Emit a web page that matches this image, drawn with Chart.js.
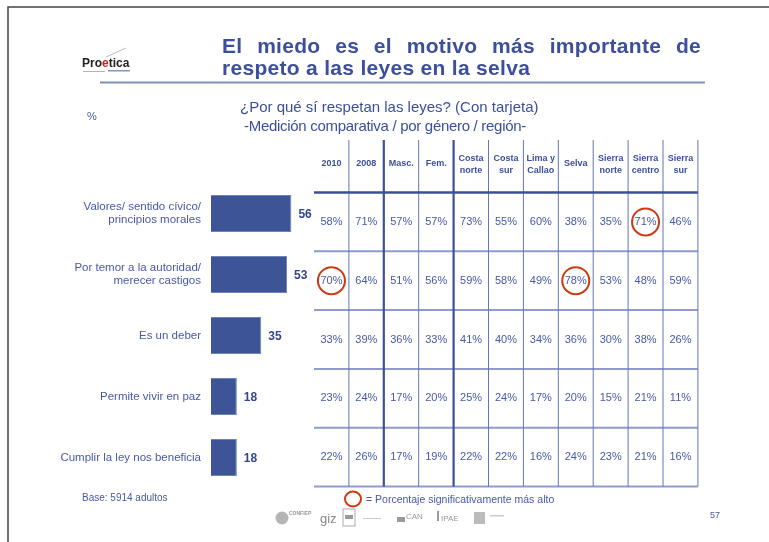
<!DOCTYPE html>
<html>
<head>
<meta charset="utf-8">
<script src="https://cdn.jsdelivr.net/npm/chart.js@4"></script>
<style>
  html, body { margin: 0; padding: 0; background: #fff; }
  #slide { display: block; }
</style>
</head>
<body>
<canvas id="slide" width="769" height="542"></canvas>
<script>
// Data
const categories = [
    ['Valores/ sentido cívico/', 'principios morales'],
    ['Por temor a la autoridad/', 'merecer castigos'],
    'Es un deber',
    'Permite vivir en paz',
    'Cumplir la ley nos beneficia'
];
const totals = [56, 53, 35, 18, 18];

const columns = [
    ['2010'], ['2008'], ['Masc.'], ['Fem.'],
    ['Costa', 'norte'], ['Costa', 'sur'], ['Lima y', 'Callao'], ['Selva'],
    ['Sierra', 'norte'], ['Sierra', 'centro'], ['Sierra', 'sur']
];
const rowValues = [
    [58, 71, 57, 57, 73, 55, 60, 38, 35, 71, 46],
    [70, 64, 51, 56, 59, 58, 49, 78, 53, 48, 59],
    [33, 39, 36, 33, 41, 40, 34, 36, 30, 38, 26],
    [23, 24, 17, 20, 25, 24, 17, 20, 15, 21, 11],
    [22, 26, 17, 19, 22, 22, 16, 24, 23, 21, 16]
];
// [row, column] of the circled cells
const highlights = [[0, 9], [1, 0], [1, 7]];

const titleLines = ['El miedo es el motivo más importante de', 'respeto a las leyes en la selva'];
const subtitleLines = ['¿Por qué sí respetan las leyes? (Con tarjeta)', '-Medición comparativa / por género / región-'];

const FONT = '"Liberation Sans", Arial, sans-serif';
const BLUE = '#3b4f9c';
const TEXT_BLUE = '#4858a6';
const RED = '#cc3a12';

// slide decoration: frame, logo, title, notes
const slidePlugin = {
    id: 'slide',
    beforeDraw(chart) {
        const ctx = chart.ctx;
        ctx.save();
        ctx.fillStyle = '#fff';
        ctx.fillRect(0, 0, chart.width, chart.height);

        // frame
        ctx.strokeStyle = '#444';
        ctx.lineWidth = 1.5;
        ctx.beginPath();
        ctx.moveTo(8, 542);
        ctx.lineTo(8, 7);
        ctx.lineTo(769, 7);
        ctx.stroke();

        // Proetica logo
        ctx.strokeStyle = '#aaa';
        ctx.lineWidth = 0.8;
        ctx.beginPath();
        ctx.moveTo(106, 57);
        ctx.lineTo(126, 48);
        ctx.stroke();
        ctx.font = 'bold 12px ' + FONT;
        ctx.textBaseline = 'alphabetic';
        let lx = 82;
        [['Pro', '#222'], ['e', '#cc2222'], ['tica', '#222']].forEach(([t, c]) => {
            ctx.fillStyle = c;
            ctx.fillText(t, lx, 67);
            lx += ctx.measureText(t).width;
        });
        ctx.fillStyle = '#b0b4c0';
        ctx.fillRect(83, 71, 22, 1);
        ctx.fillStyle = '#8a94c0';
        ctx.fillRect(108, 70, 22, 1.5);

        // title, first line justified
        ctx.fillStyle = BLUE;
        ctx.font = 'bold 21px ' + FONT;
        ctx.letterSpacing = '0.3px';
        ctx.textBaseline = 'middle';
        const words = titleLines[0].split(' ');
        const widths = words.map(w => ctx.measureText(w).width);
        const gap = (701 - 222 - widths.reduce((a, b) => a + b, 0)) / (words.length - 1);
        let wx = 222;
        words.forEach((w, i) => { ctx.fillText(w, wx, 47); wx += widths[i] + gap; });
        ctx.fillText(titleLines[1], 222, 69);
        ctx.letterSpacing = '0px';

        ctx.strokeStyle = '#7f93ba';
        ctx.lineWidth = 2;
        ctx.beginPath();
        ctx.moveTo(100, 82.5);
        ctx.lineTo(705, 82.5);
        ctx.stroke();

        // subtitle
        ctx.font = '15px ' + FONT;
        ctx.fillStyle = BLUE;
        ctx.fillText(subtitleLines[0], 240, 108);
        ctx.letterSpacing = '-0.3px';
        ctx.fillText(subtitleLines[1], 244, 127);
        ctx.letterSpacing = '0px';

        ctx.font = '11px ' + FONT;
        ctx.fillStyle = TEXT_BLUE;
        ctx.fillText('%', 87, 117);

        ctx.font = '10px ' + FONT;
        ctx.fillText('Base: 5914 adultos', 82, 498);

        // legend
        ctx.strokeStyle = RED;
        ctx.lineWidth = 2;
        ctx.beginPath();
        ctx.ellipse(353, 499, 8, 7.5, 0, 0, Math.PI * 2);
        ctx.stroke();
        ctx.font = '10.5px ' + FONT;
        ctx.fillStyle = TEXT_BLUE;
        ctx.fillText('= Porcentaje significativamente más alto', 366, 500);

        ctx.font = '9px ' + FONT;
        ctx.fillText('57', 710, 516);

        // sponsor logos (greyed)
        ctx.fillStyle = '#b5b5b5';
        ctx.beginPath();
        ctx.arc(282, 518, 6.5, 0, Math.PI * 2);
        ctx.fill();
        ctx.font = 'bold 5px ' + FONT;
        ctx.fillStyle = '#999';
        ctx.fillText('CONFIEP', 289, 514);
        ctx.font = '13px ' + FONT;
        ctx.fillStyle = '#888';
        ctx.fillText('giz', 320, 519);
        ctx.strokeStyle = '#aaa';
        ctx.lineWidth = 1;
        ctx.strokeRect(343, 509, 12, 17);
        ctx.fillStyle = '#999';
        ctx.fillRect(345, 515, 8, 4);
        ctx.fillStyle = '#ccc';
        ctx.fillRect(363, 518, 18, 1);
        ctx.fillStyle = '#999';
        ctx.fillRect(397, 517, 8, 5);
        ctx.font = '8px ' + FONT;
        ctx.fillText('CAN', 406, 517);
        ctx.fillRect(437, 511, 2, 10);
        ctx.fillText('IPAE', 441, 519);
        ctx.fillStyle = '#bbb';
        ctx.fillRect(474, 512, 11, 12);
        ctx.fillStyle = '#ccc';
        ctx.fillRect(490, 515, 14, 1.5);
        ctx.restore();
    },
    afterDraw(chart) {
        const ctx = chart.ctx;
        const x = chart.scales.x;
        const y = chart.scales.y;
        ctx.save();

        // bar value labels
        ctx.font = 'bold 12px ' + FONT;
        ctx.fillStyle = '#33458f';
        ctx.textBaseline = 'middle';
        totals.forEach((v, i) => {
            ctx.fillText(String(v), x.getPixelForValue(v) + 7, y.getPixelForValue(i) + 1);
        });

        // comparison table
        const left = 314, colW = 34.9, top = 140, headBottom = 192.5, rowH = 58.8;
        const bottom = headBottom + rowH * rowValues.length;
        const right = left + colW * columns.length;

        ctx.strokeStyle = '#8e9bcb';
        ctx.lineWidth = 2;
        for (let r = 1; r <= rowValues.length; r++) {
            const yy = headBottom + rowH * r;
            ctx.beginPath();
            ctx.moveTo(left, yy);
            ctx.lineTo(right, yy);
            ctx.stroke();
        }
        for (let c = 1; c <= columns.length; c++) {
            const xx = left + colW * c;
            const thick = c === 2 || c === 4;
            ctx.strokeStyle = thick ? '#3d4f98' : '#6575b8';
            ctx.lineWidth = thick ? 2.2 : 1;
            ctx.beginPath();
            ctx.moveTo(xx, top);
            ctx.lineTo(xx, bottom);
            ctx.stroke();
        }
        ctx.strokeStyle = '#3d5095';
        ctx.lineWidth = 2.5;
        ctx.beginPath();
        ctx.moveTo(left, headBottom);
        ctx.lineTo(right, headBottom);
        ctx.stroke();

        ctx.textAlign = 'center';
        ctx.font = 'bold 9px ' + FONT;
        ctx.fillStyle = '#3d4f9c';
        columns.forEach((lines, c) => {
            const cx = left + colW * (c + 0.5);
            if (lines.length === 1) {
                ctx.fillText(lines[0], cx, 164);
            } else {
                ctx.fillText(lines[0], cx, 159);
                ctx.fillText(lines[1], cx, 170.5);
            }
        });

        ctx.font = '11px ' + FONT;
        ctx.fillStyle = TEXT_BLUE;
        rowValues.forEach((vals, r) => {
            const cy = headBottom + rowH * (r + 0.5);
            vals.forEach((v, c) => {
                ctx.fillText(v + '%', left + colW * (c + 0.5), cy);
            });
        });

        ctx.strokeStyle = RED;
        ctx.lineWidth = 2;
        highlights.forEach(([r, c]) => {
            ctx.beginPath();
            ctx.ellipse(left + colW * (c + 0.5), headBottom + rowH * (r + 0.5), 13.5, 13.5, 0, 0, Math.PI * 2);
            ctx.stroke();
        });
        ctx.restore();
    }
};

new Chart(document.getElementById('slide').getContext('2d'), {
    type: 'bar',
    data: {
        labels: categories,
        datasets: [{
            data: totals,
            backgroundColor: '#3d5597',
            borderColor: '#7084b8',
            borderWidth: 1,
            barPercentage: 0.61,
            categoryPercentage: 1
        }]
    },
    options: {
        indexAxis: 'y',
        responsive: false,
        animation: false,
        layout: { padding: { left: 0, top: 183, right: 469, bottom: 54 } },
        plugins: {
            legend: { display: false },
            tooltip: { enabled: false }
        },
        scales: {
            x: {
                display: false,
                min: 0,
                max: 62
            },
            y: {
                afterFit(scale) { scale.width = 211; },
                grid: { display: false, drawTicks: false },
                border: { display: false },
                ticks: {
                    padding: 10,
                    color: TEXT_BLUE,
                    font: { family: FONT, size: 11.5, lineHeight: 1.17 }
                }
            }
        }
    },
    plugins: [slidePlugin]
});
</script>
</body>
</html>
